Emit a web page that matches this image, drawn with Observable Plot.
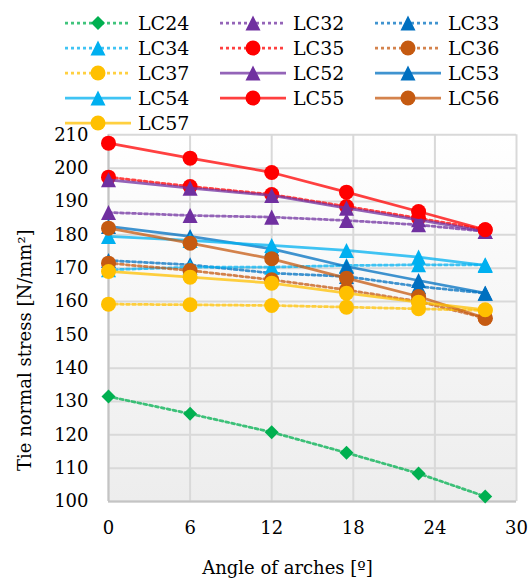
<!DOCTYPE html>
<html><head><meta charset="utf-8">
<script src="https://cdn.jsdelivr.net/npm/d3@7"></script>
<script src="https://cdn.jsdelivr.net/npm/@observablehq/plot@0.6"></script>
<style>
body{margin:0;background:#fff;font-family:"DejaVu Serif","Liberation Serif",serif;}
#wrap{position:relative;width:532px;height:583px;overflow:hidden;}
#legend{position:absolute;left:0;top:0;width:532px;height:135px;z-index:2;pointer-events:none;}
#chart{position:absolute;left:0;top:120px;}
.item{position:absolute;display:flex;align-items:center;height:24px;font-size:19px;color:#000;white-space:nowrap;}
.item svg{display:block;margin-right:7px;overflow:visible;}
</style></head><body>
<div id="wrap"><div id="legend"></div><div id="chart"></div></div>
<script>
// ---- data ----
const angles = [0, 6, 12, 17.5, 22.8, 27.7];
const LC24 = [131.5, 126.3, 120.8, 114.6, 108.4, 101.5];
const LC32 = [186.7, 185.8, 185.3, 184.3, 183.0, 181.0];
const LC33 = [172.3, 171.0, 168.5, 167.5, 164.5, 162.5];
const LC34 = [169.5, 170.3, 170.3, 170.8, 171.0, 171.0];
const LC35 = [197.3, 194.5, 192.1, 188.5, 185.0, 181.5];
const LC36 = [171.5, 169.3, 166.5, 163.5, 160.0, 155.0];
const LC37 = [159.2, 159.0, 158.8, 158.3, 157.8, 157.3];
const LC52 = [196.5, 194.0, 191.8, 188.0, 184.5, 181.0];
const LC53 = [182.5, 179.5, 175.8, 170.5, 166.3, 162.5];
const LC54 = [179.5, 178.3, 176.8, 175.3, 173.3, 170.8];
const LC55 = [207.5, 203.0, 198.7, 192.8, 187.0, 181.5];
const LC56 = [182.0, 177.5, 172.8, 167.0, 161.5, 155.0];
const LC57 = [169.0, 167.3, 165.5, 162.5, 159.8, 157.5];
const seriesNames = ["LC24","LC32","LC33","LC34","LC35","LC36","LC37","LC52","LC53","LC54","LC55","LC56","LC57"];
const seriesValues = [LC24,LC32,LC33,LC34,LC35,LC36,LC37,LC52,LC53,LC54,LC55,LC56,LC57];
const xTicks = [0, 6, 12, 18, 24, 30];
const yTicks = [100, 110, 120, 130, 140, 150, 160, 170, 180, 190, 200, 210];
const xTitle = "Angle of arches [º]";
const yTitle = "Tie normal stress [N/mm²]";

// ---- styles ----
const FONT = '"DejaVu Serif","Liberation Serif",serif';
const triangleSym = {draw(ctx, size){ const s = Math.sqrt(2*size); ctx.moveTo(0,-s/2); ctx.lineTo(s/2,s/2); ctx.lineTo(-s/2,s/2); ctx.closePath(); }};
const colors = {LC24:"#00b050",LC32:"#7030a0",LC33:"#0070c0",LC34:"#00b0f0",LC35:"#ff0000",LC36:"#c55a11",LC37:"#ffc000",
  LC52:"#7030a0",LC53:"#0070c0",LC54:"#00b0f0",LC55:"#ff0000",LC56:"#c55a11",LC57:"#ffc000"};
const dotted = {LC24:true,LC32:true,LC33:true,LC34:true,LC35:true,LC36:true,LC37:true};
const shapeOf = {LC24:"diamond",LC32:"tri",LC33:"tri",LC34:"tri",LC35:"circle",LC36:"circle",LC37:"circle",
  LC52:"tri",LC53:"tri",LC54:"tri",LC55:"circle",LC56:"circle",LC57:"circle"};
const symbols = {diamond: d3.symbolDiamond2, tri: triangleSym, circle: d3.symbolCircle};
const radius = {diamond: 6.3, tri: 6, circle: 7.5};

const rows = seriesNames.flatMap((name, i) => angles.map((a, j) => ({series: name, angle: a, value: seriesValues[i][j]})));

const dataMarks = seriesNames.flatMap(name => {
  const d = rows.filter(r => r.series === name);
  const sh = shapeOf[name];
  return [
    Plot.line(d, {x: "angle", y: "value", stroke: colors[name], strokeWidth: 2.75, strokeOpacity: 0.75,
      strokeDasharray: dotted[name] ? "3 3" : null}),
    Plot.dot(d, {x: "angle", y: "value", fill: colors[name], stroke: "none", r: radius[sh], symbol: symbols[sh]})
  ];
});

const chart = Plot.plot({
  width: 532, height: 463,
  marginLeft: 108, marginRight: 16, marginTop: 14.3, marginBottom: 82,
  x: {domain: [0, 30]},
  y: {domain: [100, 210]},
  style: {fontFamily: FONT, fontSize: "18px", color: "#000", background: "transparent", overflow: "visible"},
  marks: [
    Plot.frame({fill: "url(#bg)", stroke: "none"}),
    Plot.gridX(xTicks, {stroke: "#d9d9d9", strokeOpacity: 1, strokeWidth: 2}),
    Plot.gridY(yTicks, {stroke: "#d9d9d9", strokeOpacity: 1, strokeWidth: 2}),
    Plot.ruleX([0], {stroke: "#c4c4c4", strokeWidth: 2}),
    Plot.ruleY([100], {stroke: "#c4c4c4", strokeWidth: 2}),
    Plot.axisX(xTicks, {tickSize: 0, tickPadding: 20, label: null, fontSize: 18}),
    Plot.axisY(yTicks, {tickSize: 0, tickPadding: 20, label: null, fontSize: 18}),
    Plot.text([xTitle], {text: d => d, frameAnchor: "bottom", textAnchor: "middle", lineAnchor: "middle", dx: -25, dy: 67, fontSize: 18}),
    Plot.text([yTitle], {text: d => d, frameAnchor: "left", textAnchor: "middle", lineAnchor: "middle", rotate: -90, dx: -83, dy: 32, fontSize: 18}),
    ...dataMarks
  ]
});
d3.select(chart).insert("defs", ":first-child").html(
  '<linearGradient id="bg" x1="0" y1="0" x2="0" y2="1"><stop offset="0" stop-color="#ffffff"/><stop offset="1" stop-color="#ededed"/></linearGradient>');
document.getElementById("chart").appendChild(chart);

// ---- legend ----
const legend = d3.select("#legend");
seriesNames.forEach((name, i) => {
  const row = Math.floor(i / 3), col = i % 3;
  const item = legend.append("div").attr("class", "item")
    .style("left", (65 + col * 155) + "px").style("top", (11 + row * 25) + "px");
  const svg = item.append("svg").attr("width", 66).attr("height", 24);
  svg.append("line").attr("x1", 0).attr("x2", 66).attr("y1", 12).attr("y2", 12)
    .attr("stroke", colors[name]).attr("stroke-width", 2.75).attr("stroke-opacity", 0.75)
    .attr("stroke-dasharray", dotted[name] ? "3 3" : null);
  const sh = shapeOf[name];
  svg.append("path").attr("transform", "translate(33,12)")
    .attr("d", d3.symbol(symbols[sh], Math.PI * radius[sh] * radius[sh])())
    .attr("fill", colors[name]);
  item.append("span").text(name);
});
</script>
</body></html>
